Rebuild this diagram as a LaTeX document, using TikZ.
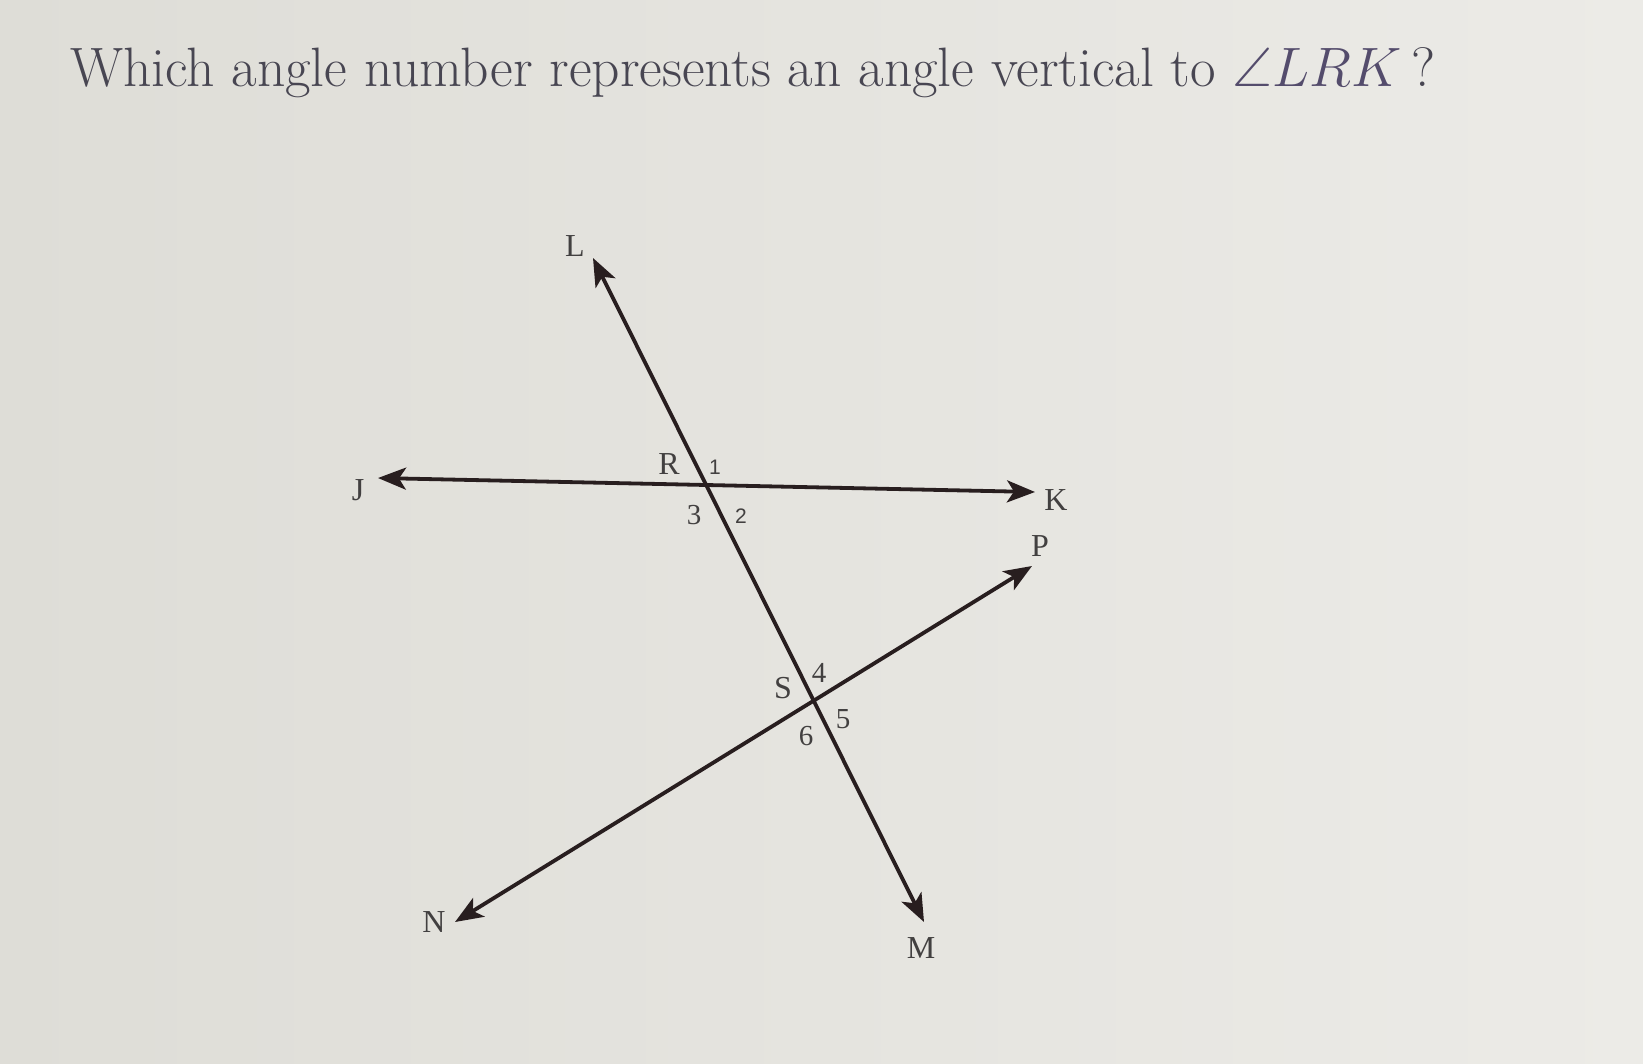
\RequirePackage{fix-cm}
\documentclass[tikz,border=0pt]{standalone}
\usepackage{amsmath,amssymb}
\usepackage{fontspec}
\newfontfamily\ptfont{Liberation Serif}
\newfontfamily\numfont{Liberation Sans}
\usetikzlibrary{arrows.meta,positioning}
\definecolor{paperL}{RGB}{222,221,215}
\definecolor{paperR}{RGB}{236,235,231}
\definecolor{ink}{RGB}{40,30,31}
\definecolor{lbl}{RGB}{66,64,64}
\definecolor{qtext}{RGB}{72,70,82}
\definecolor{qmath}{RGB}{84,76,108}

\begin{document}
\begin{tikzpicture}[x=1pt, y=-1pt,
    >={Stealth[length=28pt, width=22pt, inset=7pt]},
    ray/.style={draw=ink, line width=3.8pt},
    ptlabel/.style={text=lbl, inner sep=0pt, font=\ptfont\fontsize{32}{34}\selectfont},
    anglabel/.style={text=lbl, inner sep=0pt, font=\ptfont\fontsize{29}{31}\selectfont},
    smalllabel/.style={text=lbl, inner sep=0pt, font=\numfont\fontsize{21}{23}\selectfont}]
    % paper
    \shade [left color=paperL, right color=paperR] (0,0) rectangle (1643,1063);
    \useasboundingbox (0,0) rectangle (1643,1063);
    % question
    \node [anchor=base west, inner sep=0pt, text=qtext, font=\fontsize{55.5}{60}\selectfont] (question) at (70,86) {Which angle number represents an angle vertical to \textcolor{qmath}{$\angle LRK$}\,?};
    % ends of the rays and the two crossings
    \coordinate (L) at (593,258);
    \coordinate (M) at (924,922);
    \coordinate (J) at (378,478);
    \coordinate (K) at (1035,492);
    \coordinate (N) at (455,922);
    \coordinate (P) at (1032,566);
    \coordinate (R) at (706,486);
    \coordinate (S) at (813,699);
    \draw [ray, <->] (L) -- (M);
    \draw [ray, <->] (J) -- (K);
    \draw [ray, <->] (N) -- (P);
    % point names
    \node [ptlabel] (lL) at (575,246) {L};
    \node [ptlabel] (lJ) at (358,490) {J};
    \node [ptlabel] (lK) at (1056,500) {K};
    \node [ptlabel] (lP) at (1040,546) {P};
    \node [ptlabel] (lN) at (434,922) {N};
    \node [ptlabel] (lM) at (921,948) {M};
    \node [ptlabel] (lR) at (669,464) {R};
    \node [ptlabel] (lS) at (783,688) {S};
    % angle numbers
    \node [smalllabel] (a1) at (715,467) {1};
    \node [smalllabel] (a2) at (741,516) {2};
    \node [anglabel] (a3) at (694,515) {3};
    \node [anglabel] (a4) at (819,673) {4};
    \node [anglabel] (a5) at (843,719) {5};
    \node [anglabel] (a6) at (806,736) {6};
\end{tikzpicture}
\end{document}
